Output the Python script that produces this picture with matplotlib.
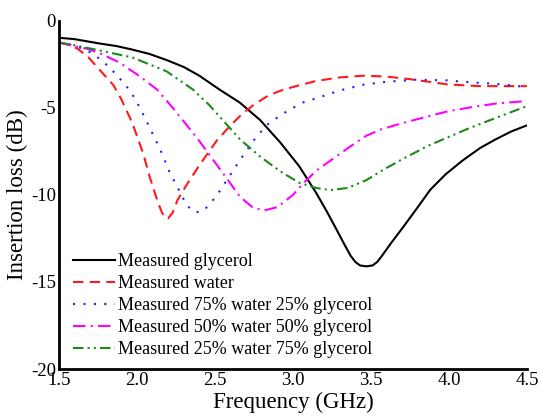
import matplotlib
matplotlib.use("Agg")
import matplotlib.pyplot as plt

plt.rcParams['font.family'] = ['Liberation Serif', 'DejaVu Serif']

# Measured glycerol
f_gly = [1.5, 1.6, 1.76, 1.87, 1.97, 2.08, 2.19, 2.30, 2.40, 2.53, 2.66, 2.79, 2.92, 3.04, 3.15,
         3.22, 3.28, 3.33, 3.37, 3.40, 3.43, 3.47, 3.51, 3.54, 3.57, 3.63, 3.71, 3.80, 3.88, 3.98,
         4.09, 4.2, 4.3, 4.4, 4.5]
s_gly = [-0.97, -1.05, -1.3, -1.45, -1.65, -1.9, -2.25, -2.65, -3.15, -3.95, -4.7, -5.7, -7.0, -8.35, -9.9,
         -11.0, -12.0, -12.85, -13.5, -13.85, -14.05, -14.1, -14.05, -13.85, -13.5, -12.75, -11.8, -10.7, -9.7, -8.8,
         -8.0, -7.3, -6.8, -6.35, -6.0]

# Measured water
f_wat = [1.5, 1.56, 1.62, 1.69, 1.76, 1.85, 1.90, 1.97, 2.0, 2.04, 2.08, 2.13, 2.16, 2.18, 2.20, 2.23, 2.26,
         2.32, 2.40, 2.51, 2.60, 2.68, 2.76, 2.85, 2.94, 3.04, 3.15, 3.3, 3.45, 3.6, 3.75, 3.83, 3.99, 4.2, 4.5]
s_wat = [-1.25, -1.35, -1.6, -2.1, -2.8, -3.7, -4.5, -5.85, -6.6, -7.6, -8.9, -10.3, -11.0, -11.3, -11.35, -11.0, -10.3,
         -9.4, -8.3, -6.9, -6.0, -5.3, -4.75, -4.25, -3.95, -3.7, -3.45, -3.25, -3.15, -3.2, -3.35, -3.45, -3.65, -3.75, -3.75]

# Measured 75% water 25% glycerol
f_75 = [1.5, 1.6, 1.70, 1.78, 1.87, 1.96, 2.02, 2.08, 2.15, 2.21, 2.28, 2.32, 2.37, 2.42, 2.46, 2.51,
        2.58, 2.66, 2.77, 2.85, 2.96, 3.06, 3.15, 3.3, 3.45, 3.6, 3.79, 3.99, 4.09, 4.3, 4.5]
s_75 = [-1.25, -1.4, -1.8, -2.3, -3.1, -4.05, -5.0, -6.1, -7.4, -8.7, -9.9, -10.6, -11.0, -10.95, -10.6, -10.05,
        -9.1, -8.0, -6.6, -5.85, -5.2, -4.7, -4.45, -4.0, -3.67, -3.5, -3.38, -3.42, -3.5, -3.62, -3.8]

# Measured 50% water 50% glycerol
f_50 = [1.5, 1.6, 1.68, 1.76, 1.89, 2.02, 2.13, 2.23, 2.32, 2.40, 2.49, 2.58, 2.66, 2.74, 2.81, 2.90,
        3.0, 3.07, 3.15, 3.26, 3.37, 3.47, 3.56, 3.69, 3.86, 3.99, 4.15, 4.3, 4.5]
s_50 = [-1.25, -1.45, -1.6, -1.85, -2.4, -3.2, -3.95, -5.0, -6.0, -6.9, -8.0, -9.1, -10.1, -10.7, -10.9, -10.7,
        -10.0, -9.3, -8.6, -7.9, -7.2, -6.6, -6.25, -5.9, -5.5, -5.2, -4.95, -4.75, -4.6]

# Measured 25% water 75% glycerol
f_25 = [1.5, 1.6, 1.76, 1.97, 2.19, 2.36, 2.40, 2.46, 2.53, 2.66, 2.79, 2.92, 3.04, 3.15, 3.24, 3.35,
        3.47, 3.58, 3.69, 3.86, 3.99, 4.12, 4.25, 4.38, 4.5]
s_25 = [-1.25, -1.4, -1.7, -2.1, -2.9, -3.95, -4.3, -4.8, -5.5, -6.8, -7.8, -8.65, -9.3, -9.6, -9.72, -9.6,
        -9.15, -8.55, -8.0, -7.2, -6.7, -6.2, -5.75, -5.3, -4.9]

labels = ["Measured glycerol", "Measured water", "Measured 75% water 25% glycerol",
          "Measured 50% water 50% glycerol", "Measured 25% water 75% glycerol"]
x_ticks = [1.5, 2.0, 2.5, 3.0, 3.5, 4.0, 4.5]
y_ticks = [0, -5, -10, -15, -20]

fig = plt.figure(figsize=(5.4, 4.17), dpi=100)
ax = fig.add_axes([0.109, 0.115, 0.867, 0.835])

lw = 1.5
ax.plot(f_gly, s_gly, color='black', lw=lw, linestyle='-', label=labels[0])
ax.plot(f_wat, s_wat, color='#ff1a1a', lw=lw, linestyle=(0, (5, 3)), label=labels[1])
ax.plot(f_75, s_75, color='#2020ff', lw=lw, linestyle=(0, (1, 4)), label=labels[2])
ax.plot(f_50, s_50, color='#ff00ff', lw=lw, linestyle=(0, (6, 2.5, 1, 2.5)), label=labels[3])
ax.plot(f_25, s_25, color='#1a8a1a', lw=lw, linestyle=(0, (5, 2, 1, 2, 1, 2)), label=labels[4])

ax.set_xlim(1.5, 4.5)
ax.set_ylim(-20, 0)
ax.set_xticks(x_ticks)
ax.set_xticklabels([f"{v:.1f}" for v in x_ticks])
ax.set_yticks(y_ticks)
ax.set_yticklabels([str(v) for v in y_ticks])
ax.tick_params(length=0, labelsize=13.5, pad=2)
for s in ['top', 'right']:
    ax.spines[s].set_visible(False)
for s in ['left', 'bottom']:
    ax.spines[s].set_linewidth(2)

ax.set_xlabel("Frequency (GHz)", fontsize=16.5, labelpad=2)
ax.set_ylabel("Insertion loss (dB)", fontsize=16.5, labelpad=2)

ax.legend(loc='lower left', bbox_to_anchor=(0.015, 0.01), frameon=False, fontsize=13,
          handlelength=2.3, handletextpad=0.2, labelspacing=0.28, borderaxespad=0)

fig.savefig("out.png", dpi=100)
